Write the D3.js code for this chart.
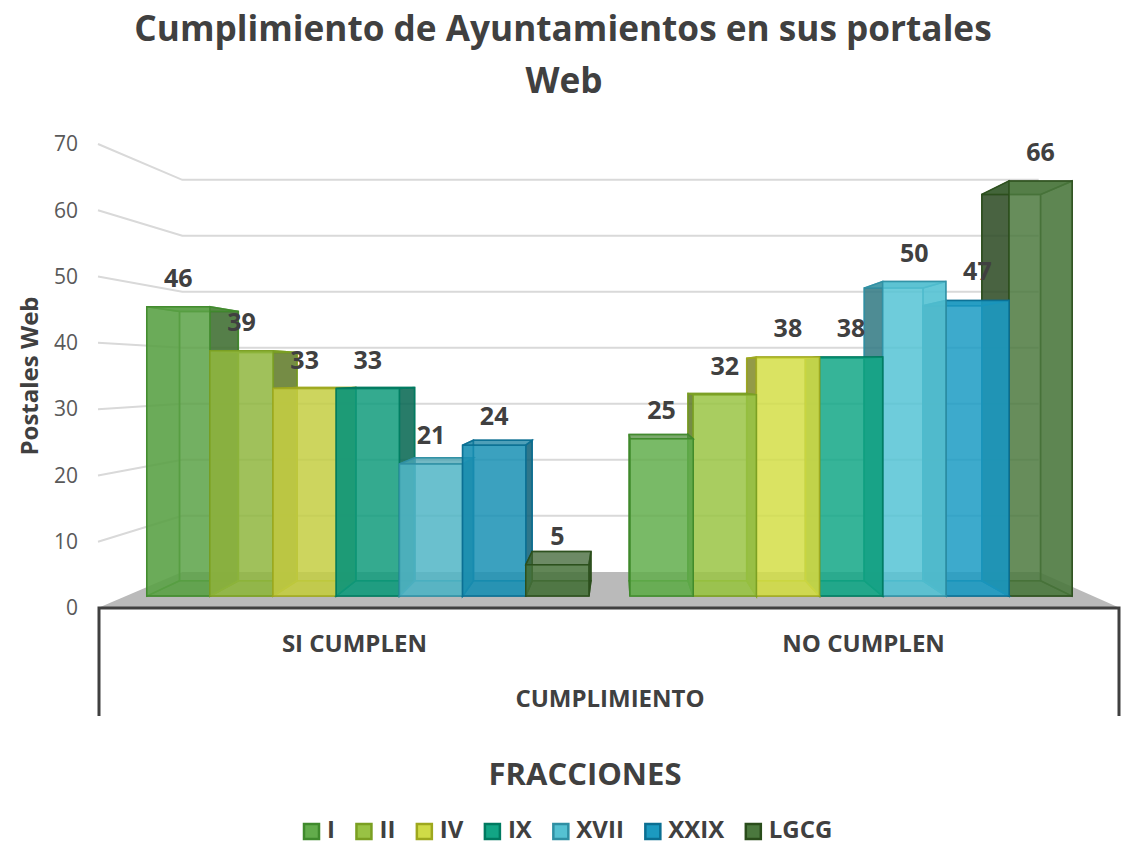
<!DOCTYPE html>
<html>
<head>
<meta charset="utf-8">
<script src="https://cdn.jsdelivr.net/npm/d3@7"></script>
<style>
  html, body { margin: 0; padding: 0; background: #fff; }
  text { font-family: "Open Sans", sans-serif; }
</style>
</head>
<body>
<div id="chart"></div>
<script>
const categories = ['SI CUMPLEN', 'NO CUMPLEN']
const fractions = ['I', 'II', 'IV', 'IX', 'XVII', 'XXIX', 'LGCG']
const siCumplen = [46, 39, 33, 33, 21, 24, 5]
const noCumplen = [25, 32, 38, 38, 50, 47, 66]
const yTicks = [0, 10, 20, 30, 40, 50, 60, 70]
const fills = ['#5ba046', '#8eb53f', '#c2cc42', '#119a7c', '#4fb4c4', '#1a8fb3', '#46703a']
const strokes = ['#3f8a2c', '#7a9f22', '#9ea81e', '#007a60', '#2f8fa3', '#0b6f92', '#2a4d1b']

const WIDTH = 1124
const HEIGHT = 845
// vanishing point of the 3D view and the depth of each plane
const VP = [618, 375]
const WALL = 0.845
const WALL_X = 0.838
const BAR_FRONT = 0.949
const BAR_BACK = 0.883

const svg = d3.select('#chart').append('svg')
                               .attr('width', WIDTH)
                               .attr('height', HEIGHT)
                               .style('display', 'block')

const y = d3.scaleLinear().domain([0, 70]).range([608, 144])
const x0 = d3.scaleBand().domain(categories).range([98, 1120])
             .paddingInner(0.085).paddingOuter(0.046)
const x1 = d3.scaleBand().domain(fractions).range([0, x0.bandwidth()])

const project = (px, value, k, kx = k) => [
  VP[0] + (px - VP[0]) * kx,
  VP[1] + (y(value) - VP[1]) * k
]
const pointsOf = pts => pts.map(p => p.join(',')).join(' ')

// floor
svg.append('polygon')
   .attr('points', pointsOf([
     project(98, 0, 1), project(1120, 0, 1),
     project(1120, 0, WALL, WALL_X), project(98, 0, WALL, WALL_X)
   ]))
   .attr('fill', '#bababa')

// gridlines: along the left wall, then along the back wall
const grid = svg.append('g').attr('class', 'grid')
grid.selectAll('polyline')
    .data(yTicks.filter(d => d > 0))
    .enter()
      .append('polyline')
      .attr('points', d => pointsOf([
        project(98, d, 1), project(98, d, WALL, WALL_X), project(1120, d, WALL, WALL_X)
      ]))
      .attr('fill', 'none')
      .attr('stroke', '#d9d9d9')
      .attr('stroke-width', 2)

// bars, outer ones first so the ones nearer the middle lie on top
const bars = []
categories.forEach((cat, c) => {
  const values = c === 0 ? siCumplen : noCumplen
  fractions.forEach((f, i) => {
    bars.push({ x: x0(cat) + x1(f), w: x1.bandwidth(), value: values[i], i, lift: c === 0 ? 0.03 : 0.25 })
  })
})
bars.sort((a, b) => Math.abs(b.x + b.w / 2 - VP[0]) - Math.abs(a.x + a.w / 2 - VP[0]))

const faces = d => {
  const corner = (side, value, k) => project(d.x + side * d.w, value, k)
  const v = d.value
  const leftSide = [corner(0, 0, BAR_FRONT), corner(0, v, BAR_FRONT), corner(0, v, BAR_BACK), corner(0, 0, BAR_BACK)]
  const rightSide = [corner(1, 0, BAR_FRONT), corner(1, v, BAR_FRONT), corner(1, v, BAR_BACK), corner(1, 0, BAR_BACK)]
  const isLeftOfVp = d.x + d.w / 2 < VP[0]
  return [
    { pts: [corner(0, 0, BAR_BACK), corner(1, 0, BAR_BACK), corner(1, v, BAR_BACK), corner(0, v, BAR_BACK)], dark: 0.1, op: 0.2 },
    { pts: [corner(0, 0, BAR_FRONT), corner(1, 0, BAR_FRONT), corner(1, 0, BAR_BACK), corner(0, 0, BAR_BACK)], dark: 0.3, op: 0.5 },
    { pts: isLeftOfVp ? rightSide : leftSide, dark: 1.1, op: 0.85 },
    { pts: isLeftOfVp ? leftSide : rightSide, dark: 0.2, op: 0.45 },
    { pts: [corner(0, v, BAR_FRONT), corner(1, v, BAR_FRONT), corner(1, v, BAR_BACK), corner(0, v, BAR_BACK)], dark: 0.3, op: 0.7 },
    { pts: [corner(0, 0, BAR_FRONT), corner(1, 0, BAR_FRONT), corner(1, v, BAR_FRONT), corner(0, v, BAR_FRONT)], dark: -d.lift, op: 0.82 }
  ]
}

const barG = svg.append('g').attr('class', 'bars')
                .selectAll('g')
                .data(bars)
                .enter()
                  .append('g')
barG.selectAll('polygon')
    .data(d => faces(d).map(face => ({ ...face, i: d.i })))
    .enter()
      .append('polygon')
      .attr('points', d => pointsOf(d.pts))
      .attr('fill', d => d3.color(fills[d.i]).darker(d.dark))
      .attr('fill-opacity', d => d.op)
      .attr('stroke', d => strokes[d.i])
      .attr('stroke-width', 1.5)
      .attr('stroke-opacity', 0.85)

// data labels
svg.append('g').attr('class', 'labels')
   .selectAll('text')
   .data(bars)
   .enter()
     .append('text')
     .attr('x', d => project(d.x + d.w / 2, d.value, BAR_FRONT)[0])
     .attr('y', d => project(d.x + d.w / 2, d.value, BAR_FRONT)[1] - 20)
     .attr('text-anchor', 'middle')
     .attr('font-size', 25)
     .attr('font-weight', 700)
     .attr('fill', '#404040')
     .text(d => d.value)

// value axis
const yAxis = svg.append('g')
                 .attr('transform', 'translate(78,0)')
                 .call(d3.axisLeft(y).tickValues(yTicks).tickSize(0).tickPadding(0))
yAxis.select('.domain').remove()
yAxis.selectAll('text')
     .attr('font-size', 21)
     .attr('font-family', '"Open Sans", sans-serif')
     .attr('fill', '#595959')

// category frame
svg.append('path')
   .attr('d', d3.line()([[99, 716], [99, 608], [1119, 608], [1119, 716]]))
   .attr('fill', 'none')
   .attr('stroke', '#404040')
   .attr('stroke-width', 3)

const xAxis = svg.append('g')
                 .attr('transform', 'translate(0,644)')
                 .call(d3.axisBottom(x0).tickSize(0).tickPadding(0))
xAxis.select('.domain').remove()
xAxis.selectAll('text')
     .attr('dy', '0.35em')
     .attr('y', 0)
     .attr('font-size', 24)
     .attr('font-weight', 700)
     .attr('font-family', '"Open Sans", sans-serif')
     .attr('fill', '#404040')

const addText = (txt, px, py, size, opts = {}) => svg.append('text')
  .attr('x', px)
  .attr('y', py)
  .attr('text-anchor', opts.anchor || 'middle')
  .attr('font-size', size)
  .attr('font-weight', 700)
  .attr('fill', opts.fill || '#404040')
  .attr('transform', opts.transform || null)
  .text(txt)

addText('Cumplimiento de Ayuntamientos en sus portales', 563, 41, 35.2)
addText('Web', 564, 93, 35.2)
addText('CUMPLIMIENTO', 610, 707, 24)
addText('FRACCIONES', 585, 785, 31)
addText('Postales Web', 0, 0, 24, { transform: 'translate(38,376) rotate(-90)' })

// legend
let legendX = 303
fractions.forEach((f, i) => {
  svg.append('rect')
     .attr('x', legendX + 1)
     .attr('y', 824)
     .attr('width', 15)
     .attr('height', 15)
     .attr('fill', d3.color(fills[i]).brighter(0.2))
     .attr('stroke', strokes[i])
     .attr('stroke-width', 2.5)
  const label = addText(f, legendX + 24, 838, 24, { anchor: 'start' })
  legendX += 24 + label.node().getComputedTextLength() + 20.5
})
</script>
</body>
</html>
